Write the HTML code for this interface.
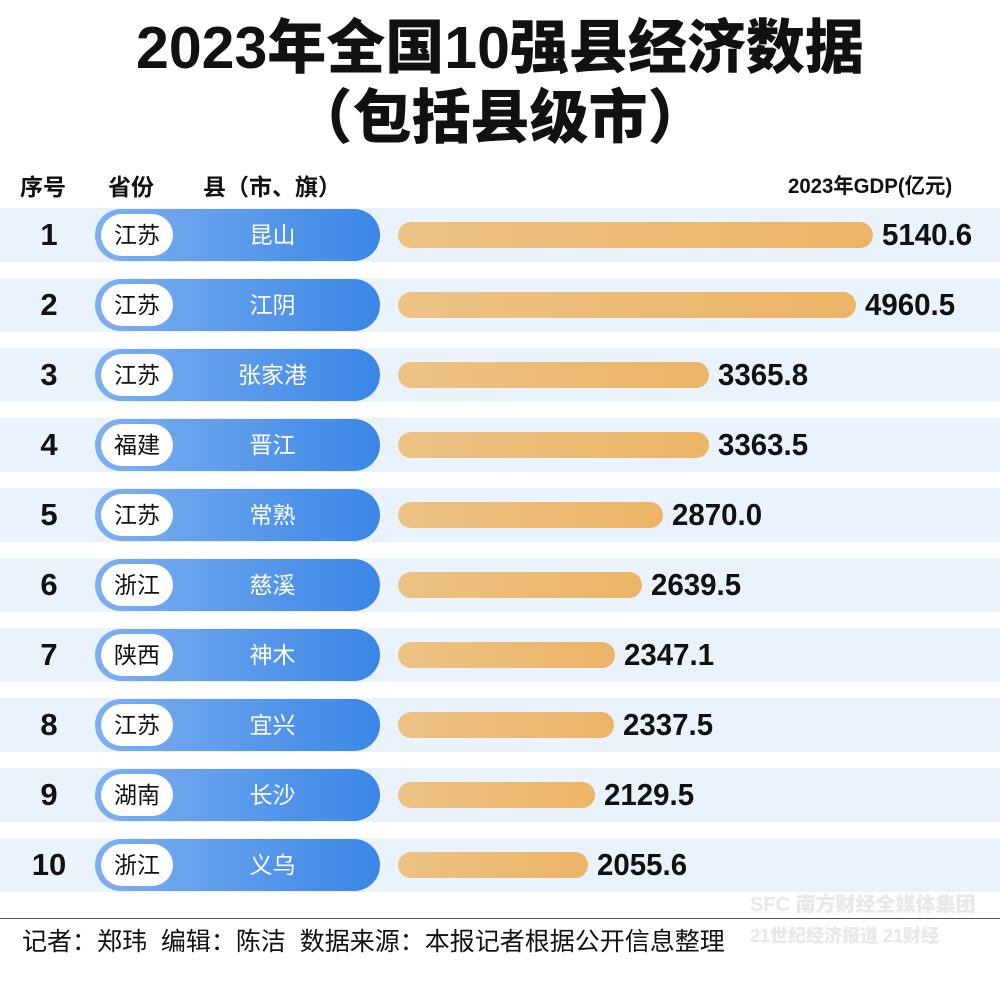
<!DOCTYPE html>
<html><head><meta charset="utf-8">
<style>
body{margin:0;width:1000px;height:988px;background:#fff;position:relative;overflow:hidden;font-family:"Liberation Sans","Noto Sans CJK SC",sans-serif;color:#111}
.t{position:absolute;left:0;width:1000px;text-align:center;font-weight:900;font-size:59px;line-height:64px;white-space:nowrap}
.h{position:absolute;top:168px;font-size:23px;font-weight:700}
.band{position:absolute;left:0;width:1000px;height:54px;background:#eaf2fb}
.num{position:absolute;left:0;width:98px;text-align:center;font-weight:700;font-size:31px;line-height:54px}
.pill{position:absolute;left:95px;width:285px;height:52px;border-radius:26px;background:linear-gradient(90deg,#7eb0ef,#3a86e6)}
.prov{position:absolute;left:6px;top:5px;width:72px;height:42px;border-radius:21px;background:#fff;font-size:23px;line-height:42px;text-align:center;color:#111}
.county{position:absolute;left:100px;width:155px;text-align:center;color:#fff;font-size:23px;line-height:52px}
.bar{position:absolute;left:398px;height:26px;border-radius:13px;background:linear-gradient(90deg,#ecc285,#ecb466)}
.val{position:absolute;font-weight:700;font-size:31px;line-height:54px;transform:scaleX(0.95);transform-origin:left center}
</style></head><body>
<div class="t" style="top:16px">2023年全国10强县经济数据</div>
<div class="t" style="top:86px">（包括县级市）</div>
<div class="h" style="left:20px">序号</div>
<div class="h" style="left:108px">省份</div>
<div class="h" style="left:203px">县（市、旗）</div>
<div class="h" style="left:788px;font-size:21px;top:170px;transform:scaleX(0.97);transform-origin:left">2023年GDP(亿元)</div>
<div id="rows"></div>
<div style="position:absolute;left:0;top:918px;width:1000px;height:1px;background:#555"></div>
<div style="position:absolute;left:22px;top:926px;font-size:25px;line-height:32px;white-space:nowrap">记者：郑玮&nbsp;&nbsp;编辑：陈洁&nbsp;&nbsp;数据来源：本报记者根据公开信息整理</div>
<div style="position:absolute;left:750px;top:888px;color:#e8e8e8;font-weight:900;font-size:20px;white-space:nowrap">SFC 南方财经全媒体集团</div>
<div style="position:absolute;left:750px;top:922px;color:#e8e8e8;font-weight:900;font-size:18px;white-space:nowrap">21世纪经济报道 21财经</div>
<script>
const provinces=["江苏","江苏","江苏","福建","江苏","浙江","陕西","江苏","湖南","浙江"];
const counties=["昆山","江阴","张家港","晋江","常熟","慈溪","神木","宜兴","长沙","义乌"];
const gdp=[5140.6,4960.5,3365.8,3363.5,2870.0,2639.5,2347.1,2337.5,2129.5,2055.6];
const labels=["5140.6","4960.5","3365.8","3363.5","2870.0","2639.5","2347.1","2337.5","2129.5","2055.6"];
const x=v=>v*(475/5140.6);
const y=i=>208+i*70;
const root=document.getElementById('rows');
gdp.forEach((v,i)=>{
  const top=y(i);
  const band=document.createElement('div');band.className='band';band.style.top=top+'px';
  
  
  root.appendChild(band);
  const n=document.createElement('div');n.className='num';n.style.top=top+'px';n.textContent=i+1;
  
  
  root.appendChild(n);
  const p=document.createElement('div');p.className='pill';p.style.top=(top+1)+'px';
  
  
  const pr=document.createElement('div');pr.className='prov';pr.textContent=provinces[i];
  
  
  const c=document.createElement('div');c.className='county';c.textContent=counties[i];
  
  
  p.appendChild(pr);p.appendChild(c);root.appendChild(p);
  const b=document.createElement('div');b.className='bar';b.style.top=(top+14)+'px';b.style.width=x(v)+'px';
  
  
  root.appendChild(b);
  const l=document.createElement('div');l.className='val';l.style.top=top+'px';l.style.left=(398+x(v)+9)+'px';l.textContent=labels[i];
  
  
  root.appendChild(l);
});
</script>
</body></html>
